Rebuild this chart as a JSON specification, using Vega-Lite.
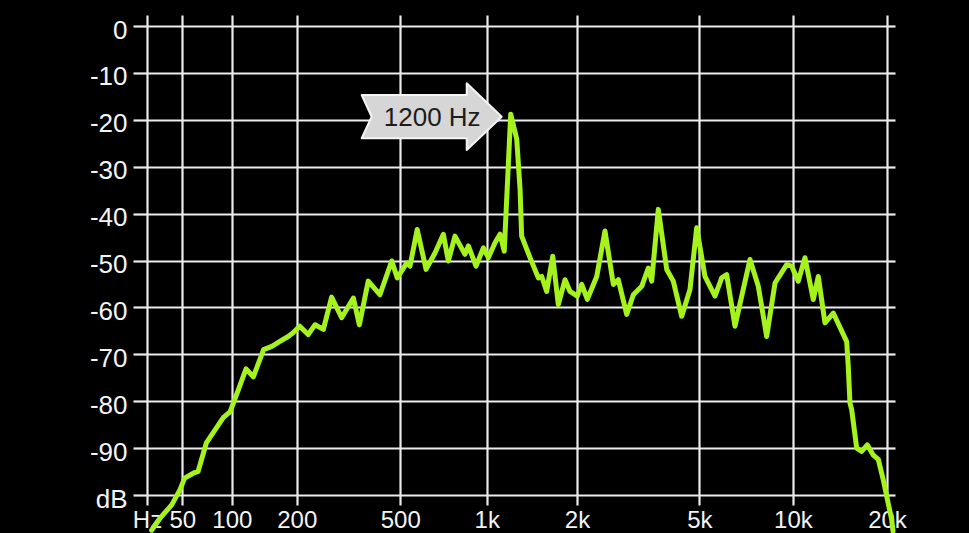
{
  "$schema": "https://vega.github.io/schema/vega-lite/v6.json",
  "autosize": {"type": "none"},
  "width": 740,
  "height": 469,
  "padding": {"left": 147, "top": 26, "right": 82, "bottom": 38},
  "background": "#000000",
  "config": {
    "view": {"stroke": null},
    "axis": {
      "domain": false,
      "gridColor": "#ececec",
      "gridWidth": 2.2,
      "gridOpacity": 1,
      "tickColor": "#ececec",
      "tickWidth": 2.2,
      "labelColor": "#f4f4f4",
      "labelFont": "Liberation Sans",
      "labelFontSize": 26,
      "title": null
    }
  },
  "datasets": {
    "spectrum": [
      {"f": 27, "db": -107.5}, {"f": 33, "db": -104.9}, {"f": 41.5, "db": -102.1}, {"f": 48, "db": -98.9},
      {"f": 52, "db": -96.4}, {"f": 60, "db": -95.3}, {"f": 64, "db": -95.0}, {"f": 72, "db": -88.9},
      {"f": 81, "db": -86.1}, {"f": 90, "db": -83.5}, {"f": 98, "db": -82.2}, {"f": 108, "db": -77.6},
      {"f": 118, "db": -73.1}, {"f": 128, "db": -74.8}, {"f": 143, "db": -69.0}, {"f": 156, "db": -68.3},
      {"f": 170, "db": -67.2}, {"f": 184, "db": -66.2}, {"f": 193, "db": -65.4}, {"f": 206, "db": -64.0},
      {"f": 223, "db": -65.8}, {"f": 238, "db": -63.7}, {"f": 257, "db": -64.7}, {"f": 277, "db": -57.8},
      {"f": 303, "db": -62.2}, {"f": 336, "db": -58.0}, {"f": 354, "db": -63.7}, {"f": 382, "db": -54.4},
      {"f": 422, "db": -57.3}, {"f": 466, "db": -50.1}, {"f": 488, "db": -53.7}, {"f": 528, "db": -50.5},
      {"f": 542, "db": -51.2}, {"f": 575, "db": -43.4}, {"f": 618, "db": -51.9}, {"f": 664, "db": -48.4},
      {"f": 710, "db": -44.4}, {"f": 739, "db": -50.1}, {"f": 779, "db": -44.8}, {"f": 843, "db": -48.7},
      {"f": 866, "db": -46.9}, {"f": 920, "db": -51.2}, {"f": 974, "db": -47.3}, {"f": 1013, "db": -49.4},
      {"f": 1067, "db": -46.2}, {"f": 1109, "db": -44.4}, {"f": 1146, "db": -48.0}, {"f": 1205, "db": -18.8},
      {"f": 1262, "db": -24.1}, {"f": 1295, "db": -34.8}, {"f": 1311, "db": -44.8}, {"f": 1398, "db": -49.4},
      {"f": 1490, "db": -53.7}, {"f": 1529, "db": -53.4}, {"f": 1588, "db": -56.6}, {"f": 1663, "db": -49.1},
      {"f": 1735, "db": -59.4}, {"f": 1826, "db": -54.1}, {"f": 1896, "db": -56.6}, {"f": 2004, "db": -57.6},
      {"f": 2072, "db": -55.1}, {"f": 2162, "db": -58.3}, {"f": 2321, "db": -53.4}, {"f": 2470, "db": -43.7},
      {"f": 2630, "db": -55.1}, {"f": 2730, "db": -54.1}, {"f": 2908, "db": -61.5}, {"f": 3056, "db": -57.3},
      {"f": 3254, "db": -55.5}, {"f": 3418, "db": -51.6}, {"f": 3506, "db": -54.4}, {"f": 3683, "db": -39.1},
      {"f": 3922, "db": -51.9}, {"f": 4119, "db": -54.4}, {"f": 4385, "db": -61.9}, {"f": 4664, "db": -56.2},
      {"f": 4902, "db": -43.0}, {"f": 5213, "db": -53.4}, {"f": 5616, "db": -57.6}, {"f": 5902, "db": -53.7},
      {"f": 6124, "db": -53.0}, {"f": 6512, "db": -64.0}, {"f": 7278, "db": -49.8}, {"f": 7741, "db": -55.5},
      {"f": 8235, "db": -66.2}, {"f": 8757, "db": -54.8}, {"f": 9547, "db": -50.9}, {"f": 9906, "db": -51.2},
      {"f": 10401, "db": -54.4}, {"f": 10927, "db": -49.4}, {"f": 11619, "db": -58.3}, {"f": 12055, "db": -53.4},
      {"f": 12665, "db": -63.3}, {"f": 13465, "db": -61.2}, {"f": 14861, "db": -67.3}, {"f": 15037, "db": -72.6},
      {"f": 15228, "db": -80.4}, {"f": 15420, "db": -81.8}, {"f": 15999, "db": -90.0}, {"f": 16599, "db": -90.7},
      {"f": 17298, "db": -89.3}, {"f": 18082, "db": -91.5}, {"f": 18759, "db": -92.4}, {"f": 19463, "db": -96.8},
      {"f": 20704, "db": -105.3}, {"f": 20906, "db": -107.7}
    ],
    "note": [
      {"f": 1200, "db": -20, "label": "1200 Hz"}
    ]
  },
  "layer": [
    {
      "data": {"name": "spectrum"},
      "mark": {"type": "line", "color": "#a6f21d", "strokeWidth": 5, "strokeJoin": "round", "strokeCap": "round"},
      "encoding": {
        "x": {
          "field": "f", "type": "quantitative",
          "scale": {"type": "symlog", "constant": 64, "domain": [24, 20000], "nice": false, "zero": false},
          "axis": {
            "orient": "bottom",
            "values": [24, 50, 100, 200, 500, 1000, 2000, 5000, 10000, 20000],
            "labelExpr": "datum.value < 40 ? 'Hz' : (datum.value >= 1000 ? (datum.value / 1000) + 'k' : '' + datum.value)",
            "tickSize": 10,
            "labelPadding": 3,
            "labelFontSize": 24,
            "labelFlush": false,
            "labelOverlap": false,
            "grid": true
          }
        },
        "y": {
          "field": "db", "type": "quantitative",
          "scale": {"domain": [-100, 0], "nice": false, "zero": false},
          "axis": {
            "orient": "left",
            "values": [0, -10, -20, -30, -40, -50, -60, -70, -80, -90, -100],
            "labelExpr": "datum.value === -100 ? 'dB' : '' + datum.value",
            "tickSize": 14,
            "labelPadding": 6,
            "labelOffset": 4,
            "labelFlush": false,
            "labelOverlap": false,
            "grid": true
          }
        }
      }
    },
    {
      "data": {"name": "note"},
      "mark": {
        "type": "point",
        "shape": "M-0.121,-0.044L-0.621,-0.521L-0.621,-0.354L-2.121,-0.354L-1.979,-0.044L-2.121,0.264L-0.621,0.264L-0.621,0.431Z",
        "size": 19600,
        "filled": true,
        "fill": "#d6d6d6",
        "stroke": "#f4f4f4",
        "strokeWidth": 2,
        "strokeJoin": "round",
        "opacity": 1
      },
      "encoding": {
        "x": {
          "field": "f", "type": "quantitative",
          "axis": {
            "orient": "top",
            "values": [24, 50, 100, 200, 500, 1000, 2000, 5000, 10000, 20000],
            "labels": false,
            "grid": false,
            "tickSize": 11
          }
        },
        "y": {
          "field": "db", "type": "quantitative",
          "axis": {
            "orient": "right",
            "values": [0, -10, -20, -30, -40, -50, -60, -70, -80, -90, -100],
            "labels": false,
            "grid": false,
            "tickSize": 8
          }
        }
      }
    },
    {
      "data": {"name": "note"},
      "mark": {
        "type": "text",
        "font": "Liberation Sans",
        "fontSize": 26,
        "color": "#1c1c1c",
        "align": "center",
        "baseline": "middle",
        "dx": -78,
        "dy": -2
      },
      "encoding": {
        "x": {"field": "f", "type": "quantitative", "axis": null},
        "y": {"field": "db", "type": "quantitative", "axis": null},
        "text": {"field": "label"}
      }
    }
  ],
  "resolve": {"axis": {"x": "independent", "y": "independent"}}
}
